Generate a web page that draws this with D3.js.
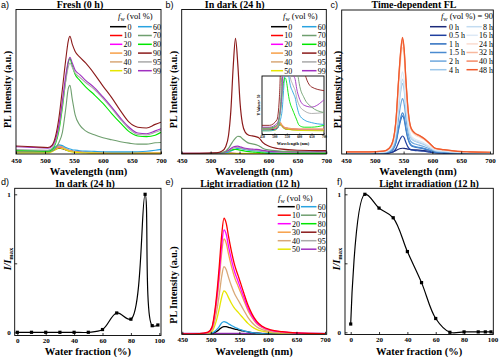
<!DOCTYPE html>
<html><head><meta charset="utf-8">
<script src="https://cdn.jsdelivr.net/npm/d3@7"></script>
<style>body{margin:0;background:#fff} svg{display:block}</style>
</head><body>
<svg id="chart" width="500" height="357"></svg>
<script>
// ---------------- DATA ----------------
const fwLabels = ["0","10","20","30","40","50","60","70","80","90","95","99"];
const fwColors = ["#000000","#ff0000","#ff00ff","#f7a048","#d9a877","#e6e600","#29a3e0","#6f9f6f","#00e600","#8b1a1a","#a9a9a9","#a030c0"];

// Panel a: Fresh (0 h)
const wlA = [450,480,505,512,518,524,530,536,540,543,547,552,560,570,585,600,615,630,645,660,675,690,700];
const a0  = [1.3,1.2,1.2,2,3.2,4,3.6,2.8,2.3,2,1.8,1.5,1.2,1,0.9,0.8,0.8,0.8,0.8,0.8,0.8,0.8,0.8];
const a10 = [1.4,1.3,1.3,2.2,3.8,5,4.4,3.3,2.6,2.2,1.9,1.6,1.3,1.1,1,0.9,0.9,0.9,0.9,0.9,0.9,0.9,0.9];
const a20 = [1.2,1.1,1.1,2,3.6,4.7,4.2,3.1,2.5,2.1,1.8,1.5,1.2,1,0.9,0.8,0.8,0.8,0.8,0.8,0.8,0.8,0.8];
const a30 = [1.5,1.4,1.4,2.4,4.3,5.6,5,3.6,2.8,2.4,2,1.7,1.4,1.2,1.1,1,1,1,1,1,1,1,1];
const a40 = [1.3,1.2,1.2,2.2,4,5.2,4.6,3.4,2.6,2.2,1.9,1.6,1.3,1.1,1,0.9,0.9,0.9,0.9,0.9,0.9,0.9,0.9];
const a50 = [0.8,0.8,0.8,1.6,3,4.2,3.8,2.8,2.1,1.7,1.4,1.1,0.9,0.7,0.6,0.5,0.5,0.5,0.5,0.5,0.5,0.5,0.5];
const a60 = [2.5,2.4,2.4,3.2,5,6.3,5.8,4.5,3.8,3.4,3,2.7,2.3,2,1.8,1.6,1.5,1.5,1.5,1.6,1.9,2.6,3.2];
const a70 = [1.5,1.5,1.4,2,4,8,15,32,45,47.5,38,27,20,16,13.3,11.3,9.8,8.5,7.5,6.8,6.8,7.8,8];
const a80 = [2.5,2.3,2,3,7,16,32,52,63,66,61,55,51,46.5,41,35,28,21.5,15.5,12.5,12,13,15];
const a90 = [5.5,5,4.5,6,12,25,45,66,78,81.5,76,71,67,63,55.5,47,39,30,22,18.5,18,20.5,22];
const a95 = [3,2.8,2.6,4,8,18,34,51,60,63,60,56,53,49.5,44.8,38.5,31.5,24,17.5,13.5,13.2,15,16.5];
const a99 = [5,4.5,4,5.5,10,20,37,55,64,67,63,58,55,51,46,39.5,32.5,25,18.5,14.5,14,16,17.5];

// Panel b: In dark (24 h)
const wlB  = [450,480,510,520,526,531,535,539,543,547,551,555,560,566,572,578,584,590,600,620,650,700];
const b60  = [0.2,0.2,0.3,0.6,0.9,1.3,2,2.8,3.5,3.9,4,3.6,3,2.6,2.4,2.2,2,1.6,1.1,0.8,0.65,0.55];
const b70  = [0.3,0.3,0.5,1,2,4,6.5,9,11,12.3,12,10.5,9,7.5,7,6.5,5.5,4,2.8,2,1.5,1.2];
const b80  = [0.35,0.35,0.5,0.9,1.5,2.2,2.7,3,3.1,3,2.7,2.3,1.9,1.6,1.4,1.2,1,0.8,0.5,0.4,0.4,0.5];
const b90  = [0.5,0.5,0.8,2,5,13,30,60,80,62,35,21,15,13,12.5,12,11,8,5.5,3.5,2.6,2.4];
const b95  = [0.3,0.3,0.5,0.9,1.4,2.2,3.2,4,4.4,4.5,4.2,3.8,3.4,3,2.8,2.6,2.4,2,1.6,1.3,1.15,1.2];
const b99  = [0.4,0.4,0.6,1,1.6,2.6,3.8,4.8,5.3,5.4,5,4.5,4,3.6,3.4,3.2,3,2.5,2,1.6,1.5,1.9];
const wlBs = [450,500,515,522,530,545,600,700];
const b0   = [0.25,0.28,0.4,0.55,0.45,0.3,0.25,0.25];
const b10  = [0.3,0.32,0.45,0.6,0.5,0.35,0.28,0.28];
const b20  = [0.3,0.33,0.5,0.65,0.52,0.35,0.28,0.28];
const b30  = [0.35,0.37,0.55,0.7,0.55,0.38,0.3,0.3];
const b40  = [0.3,0.32,0.5,0.65,0.5,0.35,0.28,0.28];
const b50  = [0.2,0.22,0.4,0.6,0.45,0.3,0.22,0.2];

// Panel c: Time-dependent FL (fw = 90)
const timeLabels = ["0 h","0.5 h","1 h","1.5 h","2 h","4 h","8 h","16 h","24 h","32 h","40 h","48 h"];
const timeColors = ["#1b2a7a","#1f3f9f","#2a6cbf","#4a8bd0","#6ea8dd","#9cc7ea","#c3dcf1","#dde9f5","#fbdccf","#f8b89e","#f58a66","#f05a2c"];
const wlC  = [450,490,515,525,532,537,541,545,548,551,554,558,563,570,577,585,595,605,620,640,665,700];
const c0   = [0.3,0.3,0.4,0.8,1.5,2.5,3.3,3.8,4,3.9,3.7,3.4,3.1,2.9,2.7,2.4,1.9,1.3,0.9,0.6,0.4,0.3];
const c05  = [0.3,0.3,0.4,0.7,1.6,3.9,7.7,11.1,12.5,11.3,8,4.6,2.9,2.4,2.2,1.9,1.3,0.7,0.5,0.4,0.3,0.3];
const c1   = [0.5,0.5,0.7,1.3,3.3,8.2,16.4,23.6,26.5,23.9,17,9.8,5.9,4.7,4.2,3.6,2.5,1.3,1,0.7,0.5,0.4];
const c15  = [0.5,0.5,0.7,1.4,3.5,8.8,17.6,25.3,28.5,25.7,18.3,10.5,6.3,5.1,4.6,3.9,2.7,1.4,1.1,0.7,0.5,0.4];
const c2   = [0.7,0.7,1,1.9,4.7,11.9,23.8,34.2,38.5,34.7,24.7,14.2,8.5,6.9,6.2,5.2,3.6,1.9,1.4,1,0.7,0.6];
const c4   = [0.9,0.9,1.2,2.4,6,15.1,30.2,43.6,49,44.1,31.5,18.1,10.9,8.8,7.8,6.7,4.6,2.4,1.8,1.2,0.9,0.7];
const c8   = [1,1,1.3,2.5,6.4,16.1,32.1,46.2,52,46.9,33.4,19.2,11.5,9.3,8.3,7.1,4.8,2.5,1.9,1.3,1,0.8];
const c16  = [1.1,1.1,1.4,2.8,7,17.6,35.2,50.7,57,51.4,36.6,21.1,12.7,10.2,9.1,7.8,5.3,2.8,2.1,1.4,1.1,0.9];
const c24  = [1.4,1.4,1.8,3.6,9.1,22.9,45.7,65.8,74,66.7,47.5,27.4,16.4,13.2,11.8,10.1,6.9,3.6,2.7,1.9,1.4,1.1];
const c32  = [1.5,1.5,1.9,3.8,9.6,24.1,48.1,69.3,78,70.3,50.1,28.9,17.3,14,12.5,10.6,7.3,3.8,2.9,2,1.5,1.2];
const c40  = [1.5,1.5,2,4,9.9,24.7,49.4,71.1,80,72.1,51.4,29.6,17.8,14.3,12.8,10.9,7.4,3.9,3,2,1.5,1.2];
const c48  = [1.5,1.5,2,4,10,25,50,72,81,73,52,30,18,14.5,13,11,7.5,4,3,2,1.5,1.2];

// Panel d & f: relative intensity vs water fraction
const fractions = [0,10,20,30,40,50,60,70,80,90,95,99];
const dIrel = [0,0,0,0,0,0,0.02,0.14,0.095,1,0.048,0.053];
const fIrel = [0.06,1,0.9,0.83,0.585,0.36,0.1,0,0.003,0.003,0.003,0.003];
const fracTicks = [0,20,40,60,80,100];
const relTicks = [0,0.5,1];

// Panel e: Light irradiation (12 h)
const wlE = [450,480,495,502,507,511,515,519,523,527,531,536,542,548,553,558,565,572,580,590,605,625,650,700];
const e0  = [0.3,0.4,0.6,0.8,1.3,2.2,3.4,4.7,5.3,5.2,4.8,4.2,3.6,3.1,2.6,2.2,1.6,1.1,0.8,0.5,0.4,0.3,0.3,0.3];
const e10 = [0.3,0.5,1.5,5,16,30,48,68,79.5,76,67,57,47,40,34,28,20,14,9,5.5,3,1.8,1,0.5];
const e20 = [0.3,0.45,1.35,4.5,14.4,27,43,61,71.5,68.4,60.3,51.3,42.3,36,30.6,25.2,18,12.6,8.1,5,2.7,1.6,0.9,0.45];
const e30 = [0.25,0.4,1.2,4.1,13.1,24.6,39,55.8,65.3,62.3,55,46.7,38.5,32.8,27.9,23,16.4,11.5,7.4,4.5,2.5,1.5,0.8,0.4];
const e40 = [0.2,0.3,0.9,2.9,9.3,17.5,27.9,39.6,46.3,44.2,39,33.2,27.4,23.3,19.8,16.3,11.6,8.1,5.2,3.2,1.7,1,0.6,0.3];
const e50 = [0.1,0.2,0.6,1.9,6,11.2,18,25.4,29.7,28.4,25.1,21.3,17.6,15,12.7,10.5,7.5,5.2,3.4,2.1,1.1,0.7,0.4,0.2];
const e60 = [0.2,0.3,0.5,0.9,2,3.5,5.5,7.8,8.7,8.2,7.2,6,4.8,3.8,3,2.3,1.6,1.1,0.7,0.5,0.3,0.2,0.2,0.2];
const wlE2 = [450,700];
const e70 = [0.5,0.5], e80 = [0.4,0.4], e90 = [0.45,0.45], e95 = [0.5,0.5], e99 = [0.55,0.55];

const wlTicks = [450,500,550,600,650,700];

// ---------------- DRAWING ----------------
const svg = d3.select("#chart");
const SERIF = "'Liberation Serif','Times New Roman',serif";
const SANS = "'Liberation Sans',Arial,sans-serif";
let clipId = 0;

function panelBase(box) {
  const g = svg.append("g");
  const id = "clip" + (clipId++);
  g.append("clipPath").attr("id", id).append("rect")
    .attr("x", box.x0).attr("y", box.y0).attr("width", box.x1 - box.x0).attr("height", box.y1 - box.y0);
  const plot = g.append("g").attr("clip-path", `url(#${id})`);
  return {g, plot};
}
function frame(g, box) {
  g.append("rect").attr("x", box.x0).attr("y", box.y0).attr("width", box.x1 - box.x0)
    .attr("height", box.y1 - box.y0).attr("fill", "none").attr("stroke", "#000").attr("stroke-width", 0.9);
}
function xAxis(g, box, xs, ticks, pad) {
  const ax = g.append("g").attr("transform", `translate(0,${box.y1})`)
    .call(d3.axisBottom(xs).tickValues(ticks).tickSize(-2.5).tickPadding(pad).tickFormat(d3.format("d")));
  ax.select(".domain").remove();
  ax.selectAll("text").attr("font-family", SERIF).attr("font-weight", "bold").attr("font-size", 7);
  ax.selectAll("line").attr("stroke-width", 0.8);
}
function text(g, x, y, s, opts) {
  const t = g.append("text").attr("x", x).attr("y", y).text(s)
    .attr("font-family", opts.family || SERIF).attr("font-size", opts.size || 10)
    .attr("font-weight", opts.weight || "normal").attr("text-anchor", opts.anchor || "middle");
  if (opts.rotate) t.attr("transform", `rotate(-90,${x},${y})`);
  return t;
}
function drawSeries(plot, xs, ys, list, width) {
  const line = d3.line().x(d => xs(d[0])).y(d => ys(d[1])).curve(d3.curveMonotoneX);
  list.forEach(s => {
    plot.append("path").attr("d", line(s.wl.map((w, i) => [w, s.v[i]])))
      .attr("fill", "none").attr("stroke", s.color).attr("stroke-width", width).attr("stroke-linejoin", "round");
  });
}
function fwTitle(g, x, y, suffix, anchor) {
  const t = g.append("text").attr("x", x).attr("y", y).attr("font-family", SERIF).attr("font-size", 8.5)
    .attr("text-anchor", anchor || "start");
  t.append("tspan").attr("font-style", "italic").text("f");
  t.append("tspan").attr("font-size", 6).attr("dy", 2).text("w");
  t.append("tspan").attr("dy", -2).text(" (vol %)" + (suffix || ""));
}
// approximate width of a legend label at 8px serif
function labWidth(s) {
  let w = 0;
  for (const ch of s) w += (ch === " " || ch === ".") ? 2 : 4;
  return w;
}
function legend2(g, labels, colors, cfg) {
  labels.forEach((lab, i) => {
    const col = i < 6 ? 0 : 1, row = i % 6;
    const y = cfg.y0 + row * cfg.dy;
    const c = cfg.cols[col];
    const lineEnd = c.align === "end" ? c.lab - labWidth(lab) - 1.2 : c.lineEnd;
    g.append("line").attr("x1", c.line).attr("x2", lineEnd).attr("y1", y).attr("y2", y)
      .attr("stroke", colors[i]).attr("stroke-width", 1.5);
    g.append("text").attr("x", c.lab).attr("y", y + 2.8).text(lab).attr("font-family", SERIF)
      .attr("font-size", 8).attr("fill", "#000").attr("text-anchor", c.align === "end" ? "end" : "start");
  });
}

// ----- Panel a -----
{
  const box = {x0: 16, x1: 161, y0: 9.5, y1: 154};
  const xs = d3.scaleLinear().domain([450, 700]).range([16, 161]);
  const ys = d3.scaleLinear().domain([0, 100]).range([box.y1, box.y0]);
  const {g, plot} = panelBase(box);
  const arr = [a0,a10,a20,a30,a40,a50,a60,a70,a80,a95,a99,a90];
  const cols = [0,1,2,3,4,5,6,7,8,10,11,9].map(i => fwColors[i]);
  drawSeries(plot, xs, ys, arr.map((v, i) => ({wl: wlA, v, color: cols[i]})), 1.1);
  frame(g, box); xAxis(g, box, xs, wlTicks, 4);
  text(g, 80, 7.5, "Fresh (0 h)", {weight: "bold", size: 10});
  text(g, 88.5, 174.5, "Wavelength (nm)", {weight: "bold", size: 10.5});
  text(g, 11, 89.5, "PL Intensity (a.u.)", {weight: "bold", size: 10, rotate: true});
  text(g, 1, 8, "a)", {family: SANS, size: 9, anchor: "start"});
  fwTitle(g, 118, 19);
  legend2(g, fwLabels, fwColors, {y0: 26.7, dy: 8.8,
    cols: [{line: 110, lab: 131.5, align: "end"}, {line: 138, lab: 161, align: "end"}]});
}

// ----- Panel b -----
{
  const box = {x0: 181.7, x1: 326.3, y0: 9.5, y1: 154};
  const xs = d3.scaleLinear().domain([450, 700]).range([box.x0, box.x1]);
  const ys = d3.scaleLinear().domain([0, 100]).range([box.y1, box.y0]);
  const {g, plot} = panelBase(box);
  const series = [
    {wl: wlBs, v: b0, i: 0}, {wl: wlBs, v: b10, i: 1}, {wl: wlBs, v: b20, i: 2}, {wl: wlBs, v: b30, i: 3},
    {wl: wlBs, v: b40, i: 4}, {wl: wlBs, v: b50, i: 5}, {wl: wlB, v: b60, i: 6}, {wl: wlB, v: b80, i: 8},
    {wl: wlB, v: b95, i: 10}, {wl: wlB, v: b99, i: 11}, {wl: wlB, v: b70, i: 7}, {wl: wlB, v: b90, i: 9}
  ].map(s => ({wl: s.wl, v: s.v, color: fwColors[s.i]}));
  drawSeries(plot, xs, ys, series, 1.2);
  // inset
  const ib = {x0: 262, x1: 324, y0: 76, y1: 134.5};
  g.append("rect").attr("x", ib.x0).attr("y", ib.y0).attr("width", ib.x1 - ib.x0).attr("height", ib.y1 - ib.y0).attr("fill", "#fff");
  const xi = d3.scaleLinear().domain([450, 700]).range([ib.x0, ib.x1]);
  const yi = d3.scaleLinear().domain([0, 3.2]).range([ib.y1, ib.y0]);
  const ins = panelBase(ib);
  drawSeries(ins.plot, xi, yi, series, 0.9);
  frame(g, ib);
  const iax = g.append("g").attr("transform", `translate(0,${ib.y1})`)
    .call(d3.axisBottom(xi).tickValues(wlTicks).tickSize(-1.2).tickPadding(1));
  iax.select(".domain").remove();
  iax.selectAll("text").attr("font-family", SERIF).attr("font-weight", "bold").attr("font-size", 3.4);
  iax.selectAll("line").attr("stroke-width", 0.5);
  text(g, (ib.x0 + ib.x1) / 2, 145, "Wavelength (nm)", {weight: "bold", size: 4.4});
  text(g, 259.5, 105, "Y Values× 50", {weight: "bold", size: 3.8, rotate: true});
  frame(g, box); xAxis(g, box, xs, wlTicks, 4);
  text(g, 234.7, 7.5, "In dark (24 h)", {weight: "bold", size: 10});
  text(g, 254, 174.5, "Wavelength (nm)", {weight: "bold", size: 10.5});
  text(g, 176.5, 89.5, "PL Intensity (a.u.)", {weight: "bold", size: 10, rotate: true});
  text(g, 165.5, 8, "b)", {family: SANS, size: 9, anchor: "start"});
  fwTitle(g, 283, 19);
  legend2(g, fwLabels, fwColors, {y0: 26.7, dy: 8.8,
    cols: [{line: 271, lab: 292.3, align: "end"}, {line: 302, lab: 325.7, align: "end"}]});
}

// ----- Panel c -----
{
  const box = {x0: 341.7, x1: 493.3, y0: 10, y1: 154};
  const xs = d3.scaleLinear().domain([450, 700]).range([346, 490]);
  const ys = d3.scaleLinear().domain([0, 100]).range([box.y1, box.y0]);
  const {g, plot} = panelBase(box);
  const arr = [c0,c05,c1,c15,c2,c4,c8,c16,c24,c32,c40,c48];
  drawSeries(plot, xs, ys, arr.map((v, i) => ({wl: wlC, v, color: timeColors[i]})), 1.2);
  frame(g, box); xAxis(g, box, xs, wlTicks, 4);
  text(g, 414, 7.5, "Time-dependent FL", {weight: "bold", size: 10});
  text(g, 418, 174.5, "Wavelength (nm)", {weight: "bold", size: 10.5});
  text(g, 340.5, 89.5, "PL Intensity (a.u.)", {weight: "bold", size: 10, rotate: true});
  text(g, 330.5, 8, "c)", {family: SANS, size: 9, anchor: "start"});
  fwTitle(g, 493, 19, " = 90", "end");
  legend2(g, timeLabels, timeColors, {y0: 26.7, dy: 8.6,
    cols: [{line: 430, lineEnd: 446.5, lab: 449, align: "start"}, {line: 466.5, lab: 493, align: "end"}]});
}

// ----- Panel d & f -----
function relPanel(cfg) {
  const box = cfg.box;
  const xs = d3.scaleLinear().domain([0, 100]).range(cfg.xr);
  const ys = d3.scaleLinear().domain([0, 1]).range([332.3, 194.3]);
  const {g, plot} = panelBase(box);
  const pts = fractions.map((f, i) => [f, cfg.vals[i]]);
  const line = d3.line().x(d => xs(d[0])).y(d => ys(d[1])).curve(d3.curveCatmullRom.alpha(0.5));
  plot.append("path").attr("d", line(pts)).attr("fill", "none").attr("stroke", "#000").attr("stroke-width", 1.2);
  g.selectAll(null).data(pts).enter().append("rect")
    .attr("x", d => xs(d[0]) - 1.6).attr("y", d => ys(d[1]) - 1.6).attr("width", 3.2).attr("height", 3.2).attr("fill", "#000");
  frame(g, box);
  xAxis(g, box, xs, fracTicks, 3);
  const ay = g.append("g").attr("transform", `translate(${box.x0},0)`)
    .call(d3.axisLeft(ys).tickValues(relTicks).tickSize(-2.5).tickPadding(4).tickFormat(d => d === 0.5 ? "" : d3.format("d")(d)));
  ay.select(".domain").remove();
  ay.selectAll("text").attr("font-family", SERIF).attr("font-weight", "bold").attr("font-size", 7);
  ay.selectAll("line").attr("stroke-width", 0.8);
  text(g, cfg.titleX, 186.5, cfg.title, {weight: "bold", size: 10});
  text(g, (box.x0 + box.x1) / 2, 355, "Water fraction (%)", {weight: "bold", size: 10.5});
  const t = g.append("text").attr("transform", `translate(${cfg.ylabX},259) rotate(-90)`).attr("text-anchor", "middle")
    .attr("font-family", SERIF).attr("font-weight", "bold").attr("font-size", 10);
  t.append("tspan").attr("font-style", "italic").text("I/I");
  t.append("tspan").attr("font-size", 6.5).attr("dy", 2).text("max");
  text(g, cfg.letterX, 185, cfg.letter, {family: SANS, size: 9, anchor: "start"});
}
relPanel({box: {x0: 14.7, x1: 161, y0: 188.3, y1: 335.5}, xr: [17.3, 159.3], vals: dIrel,
  title: "In dark (24 h)", titleX: 85, ylabX: 10.5, letter: "d)", letterX: 1});
relPanel({box: {x0: 345, x1: 493.3, y0: 188.3, y1: 334.5}, xr: [350.7, 492.4], vals: fIrel,
  title: "Light irradiation (12 h)", titleX: 429, ylabX: 339.5, letter: "f)", letterX: 337});

// ----- Panel e -----
{
  const box = {x0: 181.7, x1: 326.7, y0: 188.3, y1: 334.3};
  const xs = d3.scaleLinear().domain([450, 700]).range([182.3, 325]);
  const ys = d3.scaleLinear().domain([0, 100]).range([box.y1, box.y0]);
  const {g, plot} = panelBase(box);
  const series = [
    {wl: wlE2, v: e70, i: 7}, {wl: wlE2, v: e80, i: 8}, {wl: wlE2, v: e90, i: 9}, {wl: wlE2, v: e95, i: 10},
    {wl: wlE2, v: e99, i: 11}, {wl: wlE, v: e0, i: 0}, {wl: wlE, v: e60, i: 6}, {wl: wlE, v: e50, i: 5},
    {wl: wlE, v: e40, i: 4}, {wl: wlE, v: e30, i: 3}, {wl: wlE, v: e20, i: 2}, {wl: wlE, v: e10, i: 1}
  ].map(s => ({wl: s.wl, v: s.v, color: fwColors[s.i]}));
  drawSeries(plot, xs, ys, series, 1.3);
  frame(g, box); xAxis(g, box, xs, wlTicks, 3);
  text(g, 250, 186.5, "Light irradiation (12 h)", {weight: "bold", size: 10});
  text(g, 254, 355, "Wavelength (nm)", {weight: "bold", size: 10.5});
  text(g, 176.5, 285, "PL Intensity (a.u.)", {weight: "bold", size: 10, rotate: true});
  text(g, 165.5, 185, "e)", {family: SANS, size: 9, anchor: "start"});
  fwTitle(g, 278, 200.5);
  legend2(g, fwLabels, fwColors, {y0: 206.7, dy: 8.5,
    cols: [{line: 277.7, lab: 300, align: "end"}, {line: 301, lab: 325.7, align: "end"}]});
}
</script>
</body></html>
